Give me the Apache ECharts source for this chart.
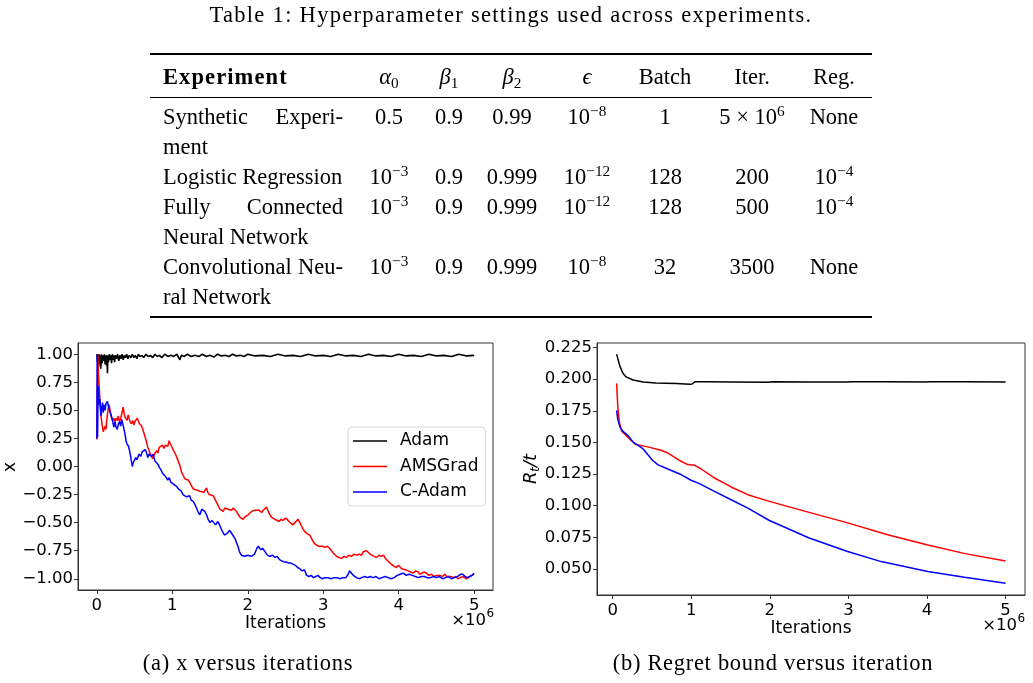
<!DOCTYPE html>
<html>
<head>
<meta charset="utf-8">
<script src="https://cdn.jsdelivr.net/npm/echarts@6/dist/echarts.min.js"></script>
<style>
  body { margin: 0; background: #fff; }
  #page { position: relative; width: 1033px; height: 683px; overflow: hidden; }
  #chart { position: absolute; left: 0; top: 0; width: 1033px; height: 683px; }
  .tx { position: absolute; font-family: "Liberation Serif", serif; font-size: 22.5px; line-height: 26px;
        white-space: nowrap; color: #000; pointer-events: none; }
  .tx sup { font-size: 68%; line-height: 0; vertical-align: 0.55em; }
  .tx sub { font-size: 68%; line-height: 0; vertical-align: -0.25em; }
  .rule { position: absolute; left: 150px; width: 722px; background: #000; }
</style>
</head>
<body>
<div id="page">
  <div id="chart"></div>
</div>
<script>
// ---- table data ----
const tableCaption = "Table 1: Hyperparameter settings used across experiments.";
const headers = ["<b style=\"letter-spacing:1.1px\">Experiment</b>", "<i>α</i><sub>0</sub>", "<i>β</i><sub>1</sub>", "<i>β</i><sub>2</sub>", "<i>ϵ</i>", "Batch", "Iter.", "Reg."];
const experiments = [
  ["Synthetic Experi-", "ment"],
  ["Logistic Regression"],
  ["Fully Connected", "Neural Network"],
  ["Convolutional Neu-", "ral Network"]
];
const alpha0 = ["0.5", "10^-3", "10^-3", "10^-3"];
const beta1 = ["0.9", "0.9", "0.9", "0.9"];
const beta2 = ["0.99", "0.999", "0.999", "0.999"];
const epsilon = ["10^-8", "10^-12", "10^-12", "10^-8"];
const batch = ["1", "128", "128", "32"];
const iters = ["5 × 10^6", "200", "500", "3500"];
const reg = ["None", "10^-4", "10^-4", "None"];
const captionA = "(a) x versus iterations";
const captionB = "(b) Regret bound versus iteration";

// ---- chart data: [iterations (x10^6), value] ----
const iterTicks = [0, 1, 2, 3, 4, 5];
const xTicks = [-1, -0.75, -0.5, -0.25, 0, 0.25, 0.5, 0.75, 1];
const regretTicks = [0.05, 0.075, 0.1, 0.125, 0.15, 0.175, 0.2, 0.225];

const adamX = [
  [0,1.0],[0.008,0.93],[0.015,1.0],[0.022,0.89],[0.03,1.0],[0.038,0.91],[0.045,0.99],[0.052,0.87],[0.06,1.0],
  [0.07,0.92],[0.08,0.99],[0.09,0.94],[0.1,1.0],[0.11,0.91],[0.12,0.99],[0.128,0.9],[0.134,0.99],[0.14,0.83],
  [0.146,0.99],[0.155,0.93],[0.165,1.0],[0.175,0.95],[0.185,0.99],[0.195,0.92],[0.205,1.0],[0.215,0.95],
  [0.225,0.99],[0.235,0.93],[0.245,0.99],[0.26,0.96],[0.275,1.0],[0.29,0.94],[0.305,0.99],[0.32,0.96],
  [0.335,1.0],[0.35,0.95],[0.365,0.99],[0.38,0.97],[0.395,1.0],[0.41,0.96],[0.43,0.99],[0.45,0.97],[0.47,1.0],
  [0.49,0.97],[0.51,0.99],[0.53,0.96],[0.55,1.0],[0.57,0.98],[0.6,0.99],[0.62,0.97],[0.65,1.0],[0.68,0.98],
  [0.71,0.99],[0.74,0.97],[0.77,1.0],[0.8,0.98],[0.83,0.99],[0.86,0.97],[0.9,1.0],[0.94,0.98],[0.98,0.99],
  [1.02,0.98],[1.06,1.0],[1.1,0.95],[1.12,0.99],[1.16,0.98],[1.2,1.0],[1.25,0.98],[1.3,0.99],[1.35,0.98],
  [1.4,1.0],[1.45,0.98],[1.5,0.99],[1.55,0.975],[1.6,1.0],[1.65,0.985],[1.7,0.99],[1.75,0.98],[1.8,1.0],
  [1.85,0.985],[1.9,0.99],[1.95,0.98],[2.0,1.0],[2.1,0.985],[2.2,0.99],[2.3,0.98],[2.4,1.0],[2.5,0.985],
  [2.6,0.99],[2.7,0.98],[2.8,1.0],[2.9,0.985],[3.0,0.99],[3.1,0.98],[3.2,1.0],[3.3,0.985],[3.4,0.99],
  [3.5,0.98],[3.6,1.0],[3.7,0.985],[3.8,0.99],[3.9,0.98],[4.0,1.0],[4.1,0.985],[4.2,0.99],[4.3,0.98],
  [4.4,1.0],[4.5,0.985],[4.6,0.99],[4.7,0.98],[4.8,1.0],[4.9,0.985],[5.0,0.99]
];
const amsgradX = [
  [0,0.24],[0.005,0.62],[0.013,1.0],[0.02,0.86],[0.027,0.75],[0.035,0.66],[0.049,0.5],[0.06,0.42],[0.075,0.35],
  [0.085,0.31],[0.1,0.3],[0.11,0.36],[0.12,0.33],[0.137,0.45],[0.15,0.51],[0.163,0.55],[0.175,0.5],[0.194,0.44],
  [0.21,0.41],[0.225,0.43],[0.239,0.4],[0.255,0.43],[0.27,0.41],[0.283,0.45],[0.3,0.4],[0.314,0.42],[0.33,0.47],
  [0.349,0.53],[0.36,0.48],[0.372,0.44],[0.384,0.43],[0.4,0.41],[0.415,0.46],[0.428,0.45],[0.44,0.4],[0.459,0.38],
  [0.475,0.41],[0.49,0.37],[0.504,0.4],[0.52,0.39],[0.535,0.43],[0.548,0.42],[0.565,0.38],[0.58,0.39],[0.592,0.36],
  [0.61,0.33],[0.623,0.3],[0.64,0.26],[0.658,0.22],[0.675,0.17],[0.693,0.14],[0.71,0.11],[0.724,0.1],[0.74,0.07],
  [0.755,0.08],[0.77,0.12],[0.791,0.14],[0.81,0.12],[0.826,0.17],[0.85,0.18],[0.87,0.19],[0.89,0.16],[0.905,0.19],
  [0.923,0.2],[0.94,0.18],[0.958,0.23],[0.975,0.2],[0.989,0.18],[1.01,0.15],[1.034,0.12],[1.055,0.09],[1.078,0.05],
  [1.1,0.01],[1.122,-0.05],[1.145,-0.08],[1.166,-0.11],[1.19,-0.1],[1.21,-0.12],[1.23,-0.14],[1.241,-0.15],
  [1.26,-0.18],[1.277,-0.2],[1.3,-0.19],[1.321,-0.21],[1.345,-0.2],[1.365,-0.22],[1.39,-0.21],[1.418,-0.23],
  [1.435,-0.21],[1.453,-0.19],[1.47,-0.23],[1.489,-0.25],[1.515,-0.24],[1.541,-0.26],[1.565,-0.29],[1.586,-0.32],
  [1.61,-0.35],[1.63,-0.38],[1.65,-0.37],[1.674,-0.4],[1.695,-0.37],[1.718,-0.36],[1.74,-0.38],[1.762,-0.37],
  [1.785,-0.39],[1.807,-0.37],[1.83,-0.38],[1.851,-0.4],[1.875,-0.43],[1.895,-0.45],[1.915,-0.44],[1.939,-0.47],
  [1.96,-0.45],[1.983,-0.44],[2.005,-0.43],[2.027,-0.42],[2.05,-0.4],[2.072,-0.41],[2.095,-0.39],[2.116,-0.4],
  [2.15,-0.39],[2.182,-0.41],[2.205,-0.39],[2.226,-0.38],[2.248,-0.36],[2.266,-0.39],[2.284,-0.42],[2.314,-0.45],
  [2.335,-0.44],[2.359,-0.47],[2.385,-0.46],[2.416,-0.49],[2.44,-0.47],[2.469,-0.48],[2.495,-0.46],[2.522,-0.47],
  [2.545,-0.49],[2.566,-0.5],[2.595,-0.52],[2.624,-0.5],[2.645,-0.49],[2.668,-0.47],[2.69,-0.5],[2.712,-0.53],
  [2.735,-0.56],[2.756,-0.58],[2.79,-0.6],[2.822,-0.61],[2.845,-0.64],[2.867,-0.67],[2.89,-0.69],[2.911,-0.7],
  [2.935,-0.71],[2.955,-0.72],[2.99,-0.71],[3.021,-0.72],[3.055,-0.71],[3.087,-0.73],[3.11,-0.75],[3.132,-0.77],
  [3.155,-0.78],[3.176,-0.8],[3.21,-0.81],[3.242,-0.82],[3.275,-0.8],[3.308,-0.81],[3.34,-0.79],[3.375,-0.8],
  [3.41,-0.78],[3.441,-0.79],[3.475,-0.78],[3.507,-0.79],[3.53,-0.76],[3.551,-0.77],[3.575,-0.75],[3.595,-0.76],
  [3.62,-0.78],[3.64,-0.79],[3.675,-0.8],[3.706,-0.81],[3.74,-0.79],[3.772,-0.8],[3.8,-0.79],[3.816,-0.81],
  [3.84,-0.83],[3.86,-0.84],[3.885,-0.86],[3.905,-0.87],[3.94,-0.89],[3.971,-0.9],[3.995,-0.88],[4.015,-0.89],
  [4.04,-0.91],[4.059,-0.9],[4.09,-0.92],[4.125,-0.93],[4.16,-0.94],[4.192,-0.95],[4.225,-0.93],[4.258,-0.94],
  [4.28,-0.96],[4.302,-0.95],[4.335,-0.94],[4.368,-0.95],[4.4,-0.97],[4.435,-0.96],[4.47,-0.98],[4.501,-0.97],
  [4.525,-0.96],[4.545,-0.97],[4.58,-0.98],[4.611,-0.96],[4.635,-0.98],[4.655,-0.99],[4.69,-0.98],[4.722,-0.99],
  [4.755,-0.98],[4.788,-1.0],[4.82,-0.99],[4.854,-0.98],[4.875,-0.99],[4.898,-1.0],[4.92,-0.99],[4.943,-0.98],
  [4.97,-0.97],[5.0,-0.96]
];
const cadamX = [
  [0,0.25],[0.004,1.0],[0.009,0.26],[0.018,0.72],[0.025,0.62],[0.033,0.55],[0.04,0.6],[0.055,0.45],[0.065,0.52],
  [0.075,0.57],[0.085,0.48],[0.095,0.55],[0.11,0.5],[0.12,0.56],[0.14,0.58],[0.155,0.53],[0.17,0.52],[0.185,0.46],
  [0.2,0.43],[0.21,0.4],[0.225,0.35],[0.24,0.4],[0.25,0.36],[0.27,0.33],[0.285,0.38],[0.3,0.4],[0.315,0.36],
  [0.33,0.42],[0.345,0.43],[0.36,0.33],[0.37,0.3],[0.39,0.22],[0.4,0.2],[0.42,0.18],[0.44,0.12],[0.455,0.06],
  [0.47,0.0],[0.48,0.03],[0.5,0.04],[0.515,0.08],[0.53,0.06],[0.56,0.11],[0.58,0.09],[0.6,0.13],[0.62,0.12],
  [0.64,0.15],[0.655,0.13],[0.675,0.08],[0.69,0.11],[0.71,0.12],[0.725,0.09],[0.745,0.11],[0.77,0.05],[0.79,0.06],
  [0.81,0.02],[0.83,-0.01],[0.85,-0.03],[0.87,-0.06],[0.89,-0.05],[0.91,-0.09],[0.94,-0.12],[0.96,-0.1],
  [0.98,-0.14],[1.0,-0.13],[1.02,-0.16],[1.04,-0.15],[1.06,-0.18],[1.08,-0.2],[1.1,-0.19],[1.12,-0.22],
  [1.14,-0.25],[1.166,-0.25],[1.19,-0.27],[1.21,-0.28],[1.23,-0.26],[1.25,-0.3],[1.277,-0.31],[1.3,-0.34],
  [1.321,-0.37],[1.345,-0.41],[1.365,-0.43],[1.39,-0.38],[1.41,-0.37],[1.43,-0.4],[1.453,-0.43],[1.475,-0.47],
  [1.5,-0.5],[1.525,-0.48],[1.55,-0.49],[1.575,-0.52],[1.6,-0.49],[1.62,-0.51],[1.645,-0.55],[1.665,-0.58],
  [1.69,-0.61],[1.72,-0.6],[1.74,-0.59],[1.76,-0.57],[1.78,-0.59],[1.8,-0.61],[1.83,-0.64],[1.851,-0.68],
  [1.87,-0.71],[1.89,-0.76],[1.915,-0.79],[1.94,-0.78],[1.96,-0.8],[1.983,-0.79],[2.0,-0.79],[2.05,-0.8],
  [2.09,-0.78],[2.12,-0.73],[2.14,-0.71],[2.17,-0.74],[2.2,-0.73],[2.23,-0.76],[2.26,-0.79],[2.29,-0.8],
  [2.33,-0.79],[2.36,-0.81],[2.39,-0.8],[2.42,-0.83],[2.45,-0.84],[2.48,-0.85],[2.51,-0.85],[2.54,-0.86],
  [2.57,-0.86],[2.6,-0.87],[2.63,-0.88],[2.66,-0.9],[2.69,-0.91],[2.72,-0.93],[2.75,-0.92],[2.78,-0.97],
  [2.81,-0.98],[2.84,-0.97],[2.87,-0.99],[2.9,-0.98],[2.93,-0.97],[2.96,-0.99],[2.99,-1.0],[3.02,-0.99],
  [3.06,-0.99],[3.1,-1.0],[3.14,-0.99],[3.18,-0.99],[3.22,-1.0],[3.26,-0.99],[3.3,-0.99],[3.33,-0.96],
  [3.35,-0.93],[3.375,-0.95],[3.4,-0.97],[3.44,-0.99],[3.48,-1.0],[3.51,-0.99],[3.55,-0.98],[3.59,-0.99],
  [3.62,-0.98],[3.66,-0.99],[3.7,-0.98],[3.74,-1.0],[3.78,-0.99],[3.82,-0.98],[3.86,-0.99],[3.9,-1.0],
  [3.94,-0.99],[3.98,-0.97],[4.02,-0.96],[4.06,-0.95],[4.1,-0.97],[4.14,-0.96],[4.18,-0.97],[4.22,-0.98],
  [4.26,-0.99],[4.3,-0.98],[4.34,-0.98],[4.38,-0.99],[4.42,-0.99],[4.46,-0.98],[4.5,-0.99],[4.54,-0.98],
  [4.58,-1.0],[4.62,-0.99],[4.66,-0.98],[4.7,-1.0],[4.74,-0.99],[4.78,-0.98],[4.82,-0.96],[4.85,-0.96],
  [4.88,-0.98],[4.91,-0.99],[4.94,-0.98],[4.97,-0.97],[5.0,-0.95]
];

const adamRegret = [
  [0.05,0.2197],[0.09,0.2105],[0.13,0.2047],[0.17,0.2018],[0.26,0.1994],[0.39,0.1978],[0.55,0.197],
  [0.81,0.1965],[0.98,0.196],[1.01,0.1962],[1.05,0.198],[1.2,0.1979],[1.5,0.1977],[1.98,0.1975],[2.03,0.1979],
  [2.5,0.1978],[2.98,0.1977],[3.03,0.1979],[3.5,0.1979],[3.98,0.1978],[4.03,0.198],[4.5,0.1979],[5.0,0.1978]
];
const amsgradRegret = [
  [0.05,0.1967],[0.064,0.1787],[0.085,0.1655],[0.115,0.1589],[0.17,0.1555],[0.233,0.1515],[0.297,0.1483],
  [0.446,0.1465],[0.615,0.1438],[0.7,0.1417],[0.785,0.1383],[0.87,0.1351],[0.955,0.1325],[1.04,0.132],
  [1.125,0.129],[1.295,0.1219],[1.507,0.1148],[1.72,0.1087],[1.995,0.1034],[2.5,0.0947],[2.99,0.0864],
  [3.5,0.077],[4.01,0.069],[4.5,0.0619],[5.0,0.0563]
];
const cadamRegret = [
  [0.05,0.1753],[0.064,0.1682],[0.093,0.1621],[0.127,0.1589],[0.17,0.1568],[0.212,0.1542],[0.255,0.1505],
  [0.318,0.1478],[0.382,0.1452],[0.446,0.1404],[0.509,0.1357],[0.573,0.1325],[0.7,0.129],[0.87,0.1246],
  [0.997,0.1201],[1.104,0.1174],[1.295,0.1113],[1.507,0.1047],[1.72,0.0981],[1.995,0.0883],[2.5,0.0745],
  [2.99,0.0638],[3.417,0.0558],[4.01,0.0479],[4.478,0.0434],[5.0,0.0386]
];

// ---- table (HTML, LaTeX-like look) ----
const page = document.getElementById("page");
function fmt(s) {
  return s.replace(/\^(-?\d+)/, (m, e) => "<sup>" + e.replace("-", "−") + "</sup>");
}
function place(html, x, y, mode, width, spacing) {
  const d = document.createElement("div");
  d.className = "tx";
  d.innerHTML = html;
  d.style.left = x + "px";
  d.style.top = y + "px";
  if (mode === "center") d.style.transform = "translate(-50%,-50%)";
  else d.style.transform = "translate(0,-50%)";
  if (width) {
    d.style.width = width + "px";
    d.style.textAlign = "justify";
    d.style.textAlignLast = "justify";
  }
  if (spacing) d.style.letterSpacing = spacing + "px";
  page.appendChild(d);
}
function rule(y, h) {
  const d = document.createElement("div");
  d.className = "rule";
  d.style.top = y + "px";
  d.style.height = h + "px";
  page.appendChild(d);
}

place(tableCaption, 511, 15, "center", null, 1.3);
rule(53, 2);
rule(96.5, 1);
rule(316, 2);

const colX = [389, 449, 512, 587, 665, 752, 834];
place(headers[0], 163, 77, "left");
headers.slice(1).forEach((h, i) => place(h, colX[i], 77, "center"));

const columns = [alpha0, beta1, beta2, epsilon, batch, iters, reg];
let rowY = 117;
experiments.forEach((lines, r) => {
  lines.forEach((ln, k) => {
    const last = k === lines.length - 1;
    place(ln, 163, rowY + k * 30, "left", last ? null : 180);
  });
  columns.forEach((col, c) => place(fmt(col[r]), colX[c], rowY, "center"));
  rowY += lines.length * 30;
});

place(captionA, 248, 663, "center", null, 0.7);
place(captionB, 773, 663, "center", null, 0.7);

// ---- charts ----
const chart = echarts.init(document.getElementById("chart"));
const tickFont = { fontFamily: "DejaVu Sans", fontSize: 16.5, color: "#000" };
const nameFont = { fontFamily: "DejaVu Sans", fontSize: 17, color: "#000" };
const frame = "#333";

function valueAxis(grid, min, max, ticks, digits, margin, extra) {
  return Object.assign({
    type: "value",
    gridIndex: grid,
    min: min,
    max: max,
    axisLine: { show: true, onZero: false, lineStyle: { color: frame, width: 1 } },
    axisTick: { show: true, customValues: ticks, length: 4, lineStyle: { color: frame } },
    axisLabel: Object.assign({
      customValues: ticks,
      margin: margin,
      formatter: v => v.toFixed(digits).replace("-", "\u2212")
    }, tickFont),
    splitLine: { show: false }
  }, extra || {});
}

const lineSeries = (name, color, xi, yi, data, width) => ({
  name: name,
  type: "line",
  xAxisIndex: xi,
  yAxisIndex: yi,
  data: data,
  showSymbol: false,
  symbol: "none",
  lineStyle: { color: color, width: width },
  itemStyle: { color: color },
  animation: false,
  silent: true
});

const option = {
  animation: false,
  grid: [
    { left: 78, top: 343, width: 415, height: 247, show: true, borderColor: frame, borderWidth: 1 },
    { left: 597, top: 343, width: 428, height: 252, show: true, borderColor: frame, borderWidth: 1 }
  ],
  xAxis: [
    valueAxis(0, -0.25, 5.25, iterTicks, 0, 7, {
      name: "Iterations", nameLocation: "middle", nameGap: 22, nameTextStyle: nameFont
    }),
    valueAxis(1, -0.2, 5.2475, iterTicks, 0, 7, {
      name: "Iterations", nameLocation: "middle", nameGap: 23, nameTextStyle: nameFont
    })
  ],
  yAxis: [
    valueAxis(0, -1.1, 1.1, xTicks, 2, 5),
    valueAxis(1, 0.0294, 0.2286, regretTicks, 3, 5)
  ],
  legend: {
    left: 348,
    top: 427,
    orient: "vertical",
    data: ["Adam", "AMSGrad", "C-Adam"],
    icon: "rect",
    itemWidth: 34,
    itemHeight: 1.5,
    itemGap: 5.5,
    padding: [4, 7, 4, 5],
    borderColor: "#d9d9d9",
    borderWidth: 1,
    borderRadius: 4,
    backgroundColor: "rgba(255,255,255,0.8)",
    textStyle: { fontFamily: "DejaVu Sans", fontSize: 17, color: "#000", lineHeight: 20, padding: [0, 0, 0, 8] },
    selectedMode: false
  },
  graphic: [
    { type: "text", x: 11, y: 467, rotation: Math.PI / 2,
      style: { text: "x", font: "17px DejaVu Sans", fill: "#000", textAlign: "center", textVerticalAlign: "middle" } },
    { type: "text", x: 486, y: 621,
      style: { text: "×10", font: "16.5px DejaVu Sans", fill: "#000", textAlign: "right", textVerticalAlign: "middle" } },
    { type: "text", x: 486.5, y: 614,
      style: { text: "6", font: "12px DejaVu Sans", fill: "#000", textAlign: "left", textVerticalAlign: "middle" } },
    { type: "text", x: 1017, y: 626,
      style: { text: "×10", font: "16.5px DejaVu Sans", fill: "#000", textAlign: "right", textVerticalAlign: "middle" } },
    { type: "text", x: 1017.5, y: 619,
      style: { text: "6", font: "12px DejaVu Sans", fill: "#000", textAlign: "left", textVerticalAlign: "middle" } },
    { type: "group", x: 531, y: 468, rotation: Math.PI / 2, children: [
      { type: "text", x: -16, y: 0,
        style: { text: "R", font: "italic 18px DejaVu Sans", fill: "#000", textAlign: "left", textVerticalAlign: "middle" } },
      { type: "text", x: -4, y: 5,
        style: { text: "t", font: "italic 12.5px DejaVu Sans", fill: "#000", textAlign: "left", textVerticalAlign: "middle" } },
      { type: "text", x: 1, y: 0,
        style: { text: "/t", font: "italic 18px DejaVu Sans", fill: "#000", textAlign: "left", textVerticalAlign: "middle" } }
    ] }
  ],
  series: [
    lineSeries("Adam", "#000000", 0, 0, adamX, 1.6),
    lineSeries("AMSGrad", "#ff0000", 0, 0, amsgradX, 1.5),
    lineSeries("C-Adam", "#0000ff", 0, 0, cadamX, 1.5),
    lineSeries("Adam", "#000000", 1, 1, adamRegret, 1.5),
    lineSeries("AMSGrad", "#ff0000", 1, 1, amsgradRegret, 1.5),
    lineSeries("C-Adam", "#0000ff", 1, 1, cadamRegret, 1.5)
  ]
};

chart.setOption(option);
</script>
</body>
</html>
